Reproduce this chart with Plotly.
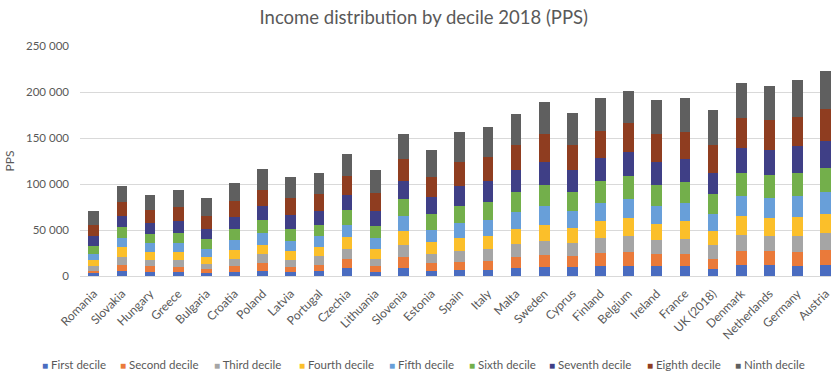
import plotly.graph_objects as go

countries = ["Romania", "Slovakia", "Hungary", "Greece", "Bulgaria", "Croatia", "Poland",
             "Latvia", "Portugal", "Czechia", "Lithuania", "Slovenia", "Estonia", "Spain",
             "Italy", "Malta", "Sweden", "Cyprus", "Finland", "Belgium", "Ireland", "France",
             "UK (2018)", "Denmark", "Netherlands", "Germany", "Austria"]

decile_names = ["First decile", "Second decile", "Third decile", "Fourth decile",
                "Fifth decile", "Sixth decile", "Seventh decile", "Eighth decile",
                "Ninth decile"]

# Income per decile (PPS), one list per decile, in country order
first   = [2900, 5100, 4700, 4300, 3000, 4000, 5800, 4300, 5100, 8300, 4700, 8700, 5800, 6500,
           6800, 8700, 9400, 9400, 10800, 11200, 10800, 11200, 7600, 11600, 11600, 11200, 11600]
second  = [2900, 6500, 5800, 5800, 4600, 6800, 8300, 5600, 7200, 9800, 6100, 11900, 8300, 9000,
           9800, 11900, 13000, 11900, 14100, 14800, 13300, 12900, 11100, 15500, 15100, 15100, 16900]
third   = [5100, 9400, 7300, 7600, 5600, 7900, 9400, 7600, 9000, 11100, 7900, 13300, 10000, 11900,
           12900, 14400, 15500, 14100, 16500, 17300, 15200, 16300, 14500, 18000, 16600, 17700, 18400]
fourth  = [6500, 10200, 8300, 8000, 7000, 9400, 10400, 9800, 10100, 12700, 10300, 15100, 12700, 13700,
           14500, 16200, 18000, 16500, 18100, 19500, 17300, 19100, 15800, 19800, 19800, 20200, 20900]
fifth   = [6900, 10500, 9400, 10500, 9500, 11200, 12600, 11000, 11600, 14000, 12500, 16200, 13700, 16200,
           17300, 18800, 20600, 18400, 19800, 21300, 19900, 19800, 18100, 22000, 22100, 22400, 23400]
sixth   = [8300, 11200, 10500, 10500, 10000, 11600, 14100, 13000, 12500, 15900, 12900, 18100, 16600, 18800,
           19500, 20900, 22700, 20600, 23500, 24400, 22700, 22700, 21600, 25300, 24800, 25600, 26000]
seventh = [10500, 12300, 12000, 13100, 11000, 13300, 15500, 14800, 15200, 16600, 16700, 19800, 18700, 21600,
           22000, 24500, 24900, 24200, 25600, 26800, 24900, 25300, 23500, 27400, 26700, 28800, 29600]
eighth  = [12000, 14900, 14100, 15200, 14300, 17700, 17700, 18400, 18000, 20100, 18700, 23800, 22100, 26400,
           26700, 26700, 29900, 27000, 29600, 31000, 29900, 29300, 30300, 32400, 32400, 32100, 34700]
ninth   = [15200, 17400, 16300, 18500, 19600, 18700, 22700, 23100, 23500, 23900, 25300, 27100, 28800, 32000,
           32600, 34300, 34600, 35000, 35300, 35300, 37100, 36700, 37800, 37900, 37900, 40400, 41100]

deciles = [first, second, third, fourth, fifth, sixth, seventh, eighth, ninth]
colors = ["#4a6cc0", "#ea7a3a", "#a5a5a5", "#fbbf2a", "#689fd9",
          "#73af4b", "#3f3f86", "#8f3d20", "#5f5f5f"]

FONT = "Lato, 'Open Sans', sans-serif"
TEXT = "#595959"

fig = go.Figure()
for name, vals, col in zip(decile_names, deciles, colors):
    fig.add_trace(go.Bar(x=countries, y=vals, name=name, marker_color=col,
                         marker_line_width=0, showlegend=False))

# Legend drawn as a single row of labelled squares under the chart
legend_px = [40, 118, 212, 297, 387, 467, 547, 645, 733]
plot_left, plot_w = 80, 751
annotations = []
for name, col, px in zip(decile_names, colors, legend_px):
    annotations.append(dict(
        text=f"<span style='color:{col};font-size:10px'>■</span> {name}",
        x=(px - plot_left) / plot_w, xref="paper", xanchor="left",
        y=-0.385, yref="paper", yanchor="middle", showarrow=False,
        font=dict(family=FONT, size=11.5, color=TEXT)))

fig.update_layout(
    width=831, height=371,
    margin=dict(l=80, r=0, t=46, b=95),
    barmode="stack", bargap=0.62,
    paper_bgcolor="white", plot_bgcolor="white",
    separators=". ",
    font=dict(family=FONT, color=TEXT),
    title=dict(text="Income distribution by decile 2018 (PPS)", x=0.51, xanchor="center",
               y=0.952, yanchor="middle", font=dict(family=FONT, size=18.5, color=TEXT)),
    annotations=annotations,
)
fig.update_xaxes(range=[-0.49, 26.19], tickangle=-45, tickfont=dict(size=12, color=TEXT),
                 ticklabelstandoff=5,
                 showline=True, linecolor="#d9d9d9", linewidth=1, showgrid=False, ticks="")
fig.update_yaxes(range=[0, 250000], dtick=50000, tickformat=",d",
                 tickfont=dict(size=11.5, color=TEXT), gridcolor="#d9d9d9", gridwidth=1,
                 zeroline=False, ticklabelstandoff=10,
                 title=dict(text="PPS", font=dict(size=12, color=TEXT), standoff=8))

fig.write_html("out.html")
